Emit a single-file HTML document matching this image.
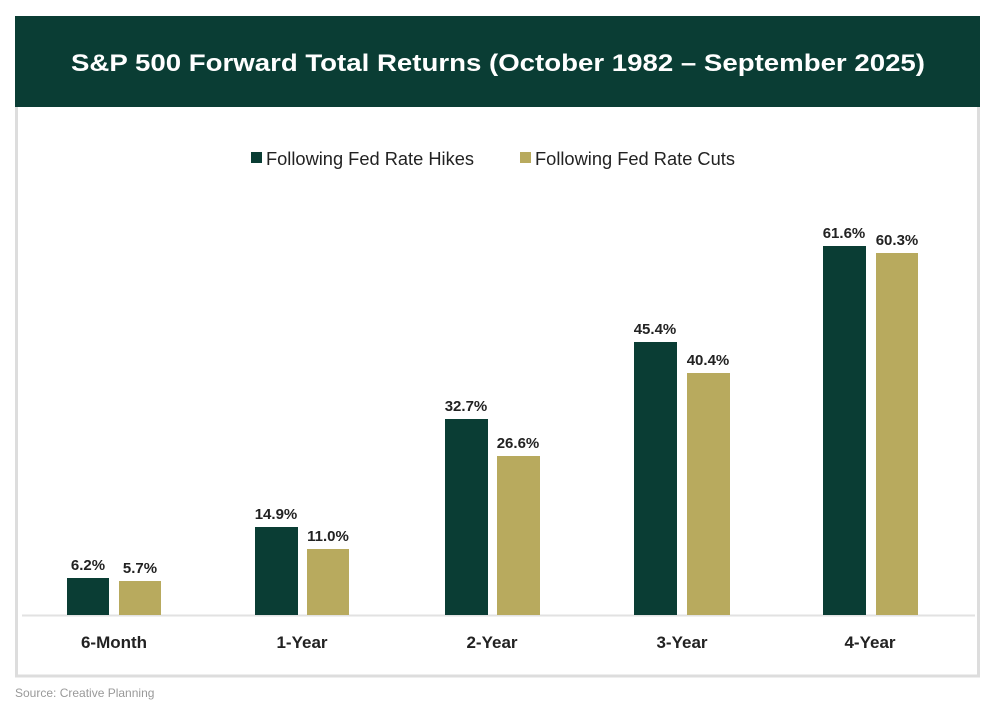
<!DOCTYPE html>
<html><head><style>html,body{margin:0;padding:0;background:#fff}</style></head>
<body>
<svg width="995" height="707" xmlns="http://www.w3.org/2000/svg" font-family="Liberation Sans, sans-serif">
<rect x="0" y="0" width="995" height="707" fill="#fff"/>
<rect x="16.5" y="100" width="962" height="576" fill="#fff" stroke="#dddddd" stroke-width="3"/>
<rect x="15" y="16" width="965" height="91" fill="#0a3d34"/>
<text x="498" y="71" text-anchor="middle" fill="#fff" font-size="24" font-weight="bold" textLength="854" lengthAdjust="spacingAndGlyphs">S&amp;P 500 Forward Total Returns (October 1982 – September 2025)</text>
<rect x="251" y="152" width="11" height="11" fill="#0a3d34"/>
<text x="266" y="165" font-size="18" fill="#222" textLength="208" lengthAdjust="spacingAndGlyphs">Following Fed Rate Hikes</text>
<rect x="520" y="152" width="11" height="11" fill="#b8aa5e"/>
<text x="535" y="165" font-size="18" fill="#222" textLength="200" lengthAdjust="spacingAndGlyphs">Following Fed Rate Cuts</text>
<line x1="22" y1="615.5" x2="975" y2="615.5" stroke="#e2e2e2" stroke-width="2"/>
<g fill="#0a3d34">
<rect x="67" y="578" width="42" height="37"/>
<rect x="255" y="527" width="43" height="88"/>
<rect x="445" y="419" width="43" height="196"/>
<rect x="634" y="342" width="43" height="273"/>
<rect x="823" y="246" width="43" height="369"/>
</g>
<g fill="#b8aa5e">
<rect x="119" y="581" width="42" height="34"/>
<rect x="307" y="549" width="42" height="66"/>
<rect x="497" y="456" width="43" height="159"/>
<rect x="687" y="373" width="43" height="242"/>
<rect x="876" y="253" width="42" height="362"/>
</g>
<g font-size="15" font-weight="bold" fill="#222" text-anchor="middle">
<text x="88" y="570">6.2%</text><text x="140" y="573">5.7%</text>
<text x="276" y="519">14.9%</text><text x="328" y="541">11.0%</text>
<text x="466" y="411">32.7%</text><text x="518" y="448">26.6%</text>
<text x="655" y="334">45.4%</text><text x="708" y="365">40.4%</text>
<text x="844" y="238">61.6%</text><text x="897" y="245">60.3%</text>
</g>
<g font-size="17" font-weight="bold" fill="#222" text-anchor="middle">
<text x="114" y="648">6-Month</text>
<text x="302" y="648">1-Year</text>
<text x="492" y="648">2-Year</text>
<text x="682" y="648">3-Year</text>
<text x="870" y="648">4-Year</text>
</g>
<text x="15" y="697" font-size="12" fill="#999">Source: Creative Planning</text>
</svg>
</body></html>
